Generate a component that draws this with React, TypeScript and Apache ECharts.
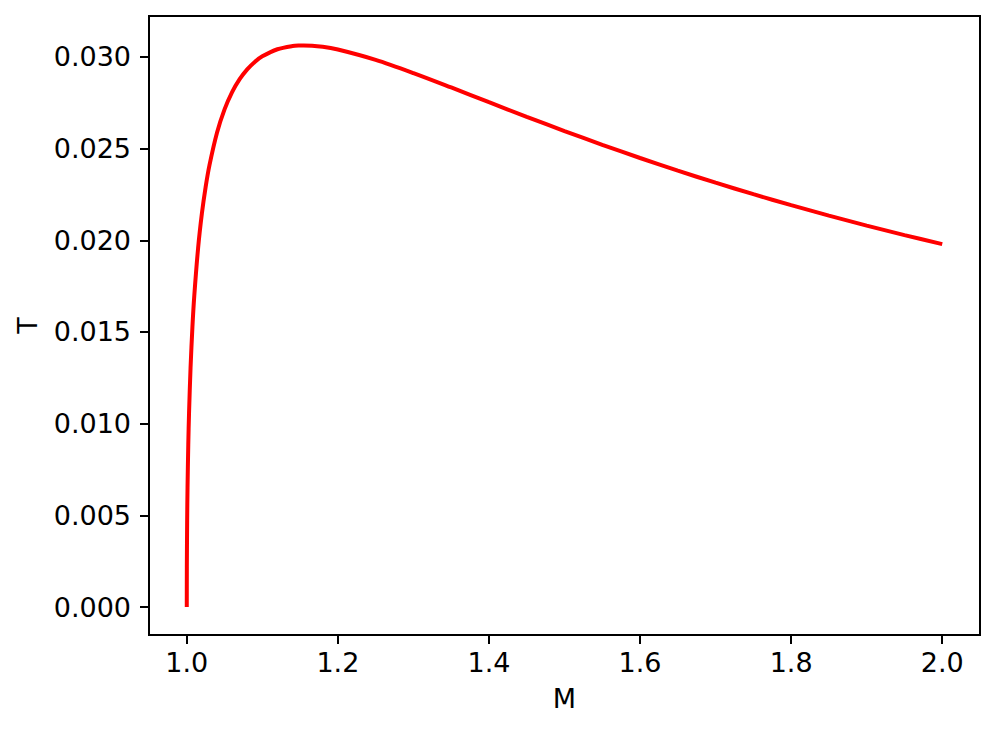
import React, { useEffect, useRef } from "react";
import * as echarts from "echarts";

const massValues: number[] = [
  1.0, 1.0001, 1.0005, 1.001, 1.002, 1.003, 1.005, 1.0075, 1.01, 1.015, 1.02, 1.025,
  1.03, 1.04, 1.05, 1.06, 1.07, 1.08, 1.09, 1.1, 1.12, 1.14, 1.15, 1.1547, 1.18,
  1.2, 1.25, 1.3, 1.35, 1.4, 1.45, 1.5, 1.55, 1.6, 1.65, 1.7, 1.75, 1.8, 1.85,
  1.9, 1.95, 2.0,
];
const temperatureValues: number[] = [
  0.0, 0.002188, 0.004725, 0.00651, 0.008874, 0.010567, 0.013048, 0.015289, 0.017009,
  0.019577, 0.021458, 0.022918, 0.024093, 0.02587, 0.027142, 0.028082, 0.028789,
  0.029325, 0.029731, 0.030037, 0.030423, 0.030597, 0.030626, 0.030629, 0.030553,
  0.030407, 0.029842, 0.029122, 0.028337, 0.027534, 0.026738, 0.025961, 0.025211,
  0.02449, 0.023801, 0.023143, 0.022516, 0.021918, 0.021348, 0.020804, 0.020286,
  0.019792,
];
const xTickValues: number[] = [1.0, 1.2, 1.4, 1.6, 1.8, 2.0];
const yTickValues: number[] = [0.0, 0.005, 0.01, 0.015, 0.02, 0.025, 0.03];

const FONT = "DejaVu Sans";

export default function App() {
  const ref = useRef<HTMLDivElement>(null);
  useEffect(() => {
    document.body.style.margin = "0";
    if (!ref.current) return;
    const chart = echarts.init(ref.current, undefined, { renderer: "svg" });
    const data = massValues.map((m, i) => [m, temperatureValues[i]]);
    const axisCommon = {
      axisLine: { show: true, onZero: false, lineStyle: { color: "#000", width: 2 } },
      splitLine: { show: false },
    };
    chart.setOption({
      animation: false,
      backgroundColor: "#fff",
      grid: {
        left: 149,
        right: 17,
        top: 16,
        bottom: 104,
        show: true,
        borderColor: "#000",
        borderWidth: 2,
        backgroundColor: "transparent",
        containLabel: false,
      },
      xAxis: {
        type: "value",
        min: 0.95,
        max: 2.05,
        name: "M",
        nameLocation: "middle",
        nameGap: 50,
        nameTextStyle: { fontFamily: FONT, fontSize: 27, color: "#000" },
        ...axisCommon,
        axisTick: {
          show: true,
          inside: false,
          length: 9,
          customValues: xTickValues,
          lineStyle: { color: "#000", width: 2 },
        },
        axisLabel: {
          customValues: xTickValues,
          formatter: (v: number) => v.toFixed(1),
          fontFamily: FONT,
          fontSize: 27,
          color: "#000",
          margin: 14,
        },
      },
      yAxis: {
        type: "value",
        min: -0.001527,
        max: 0.032236,
        name: "T",
        nameLocation: "middle",
        nameGap: 108,
        nameRotate: 90,
        nameTextStyle: { fontFamily: FONT, fontSize: 27, color: "#000" },
        ...axisCommon,
        axisTick: {
          show: true,
          inside: false,
          length: 9,
          customValues: yTickValues,
          lineStyle: { color: "#000", width: 2 },
        },
        axisLabel: {
          customValues: yTickValues,
          formatter: (v: number) => v.toFixed(3),
          fontFamily: FONT,
          fontSize: 27,
          color: "#000",
          margin: 18,
        },
      },
      series: [
        {
          type: "line",
          data,
          showSymbol: false,
          smooth: 0.3,
          lineStyle: { color: "#ff0000", width: 4 },
          clip: true,
        },
      ],
    });
    return () => chart.dispose();
  }, []);
  return <div ref={ref} style={{ width: 997, height: 739 }} />;
}
